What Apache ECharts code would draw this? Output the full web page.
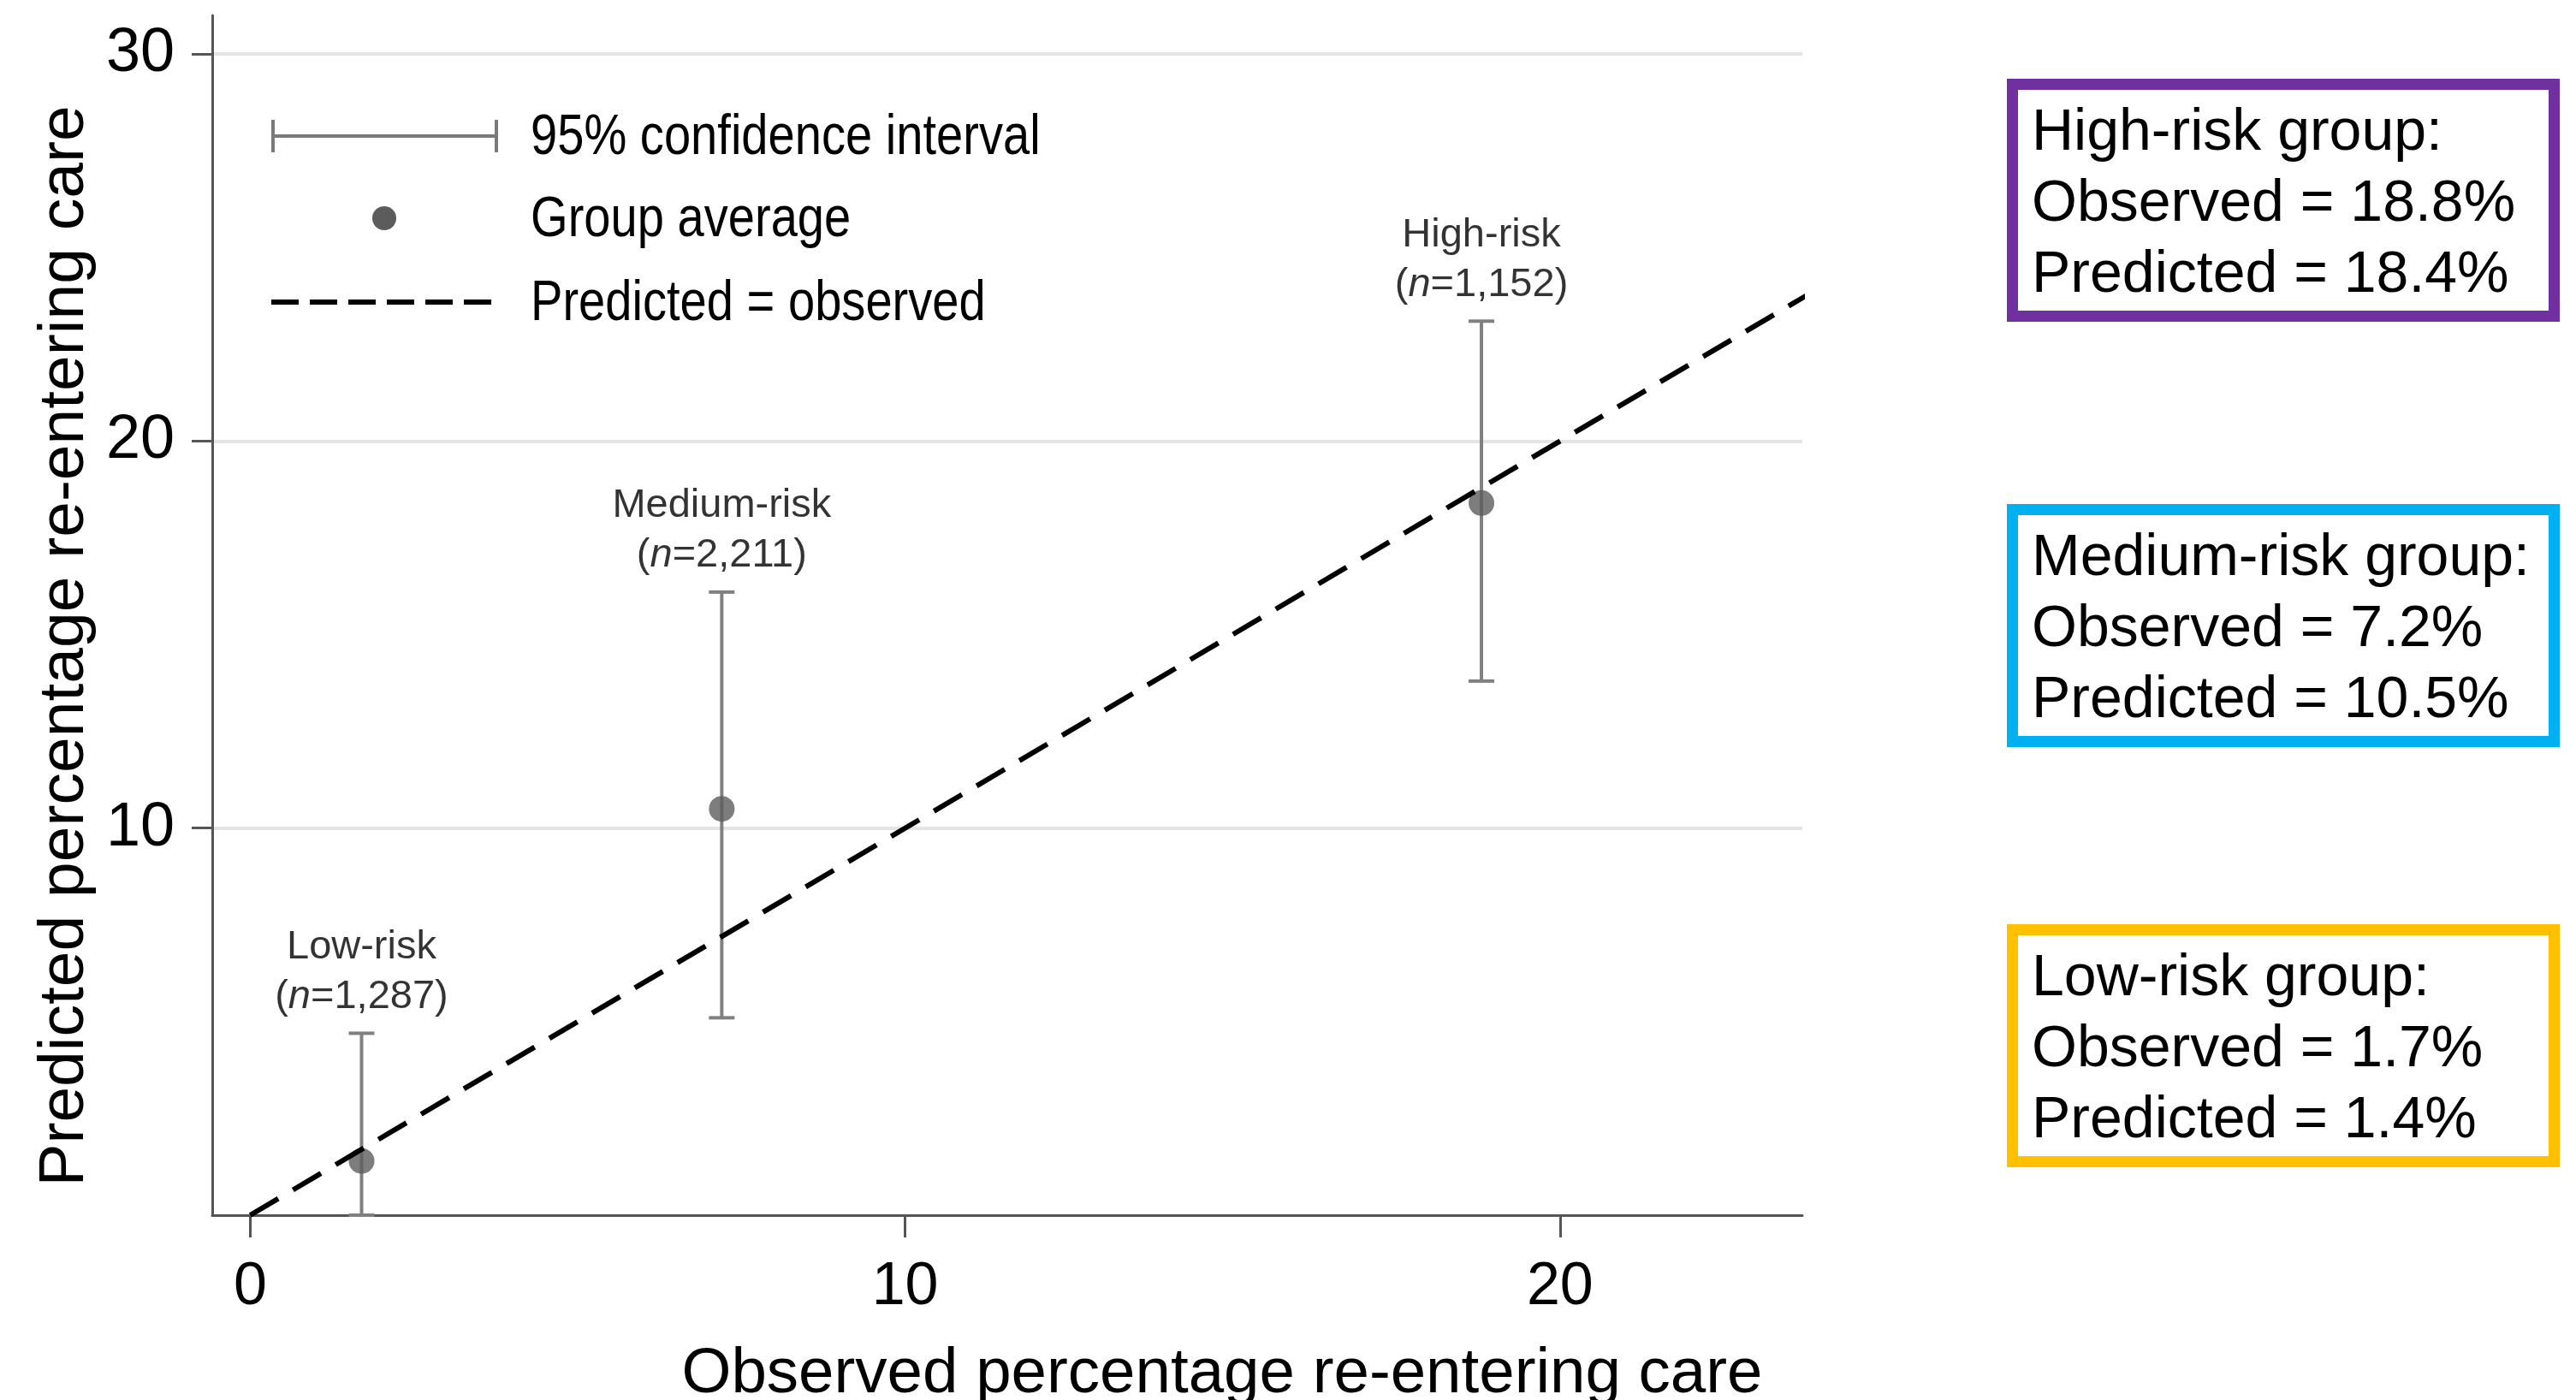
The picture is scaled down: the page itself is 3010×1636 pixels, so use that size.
<!DOCTYPE html>
<html>
<head>
<meta charset="utf-8">
<script src="https://cdn.jsdelivr.net/npm/echarts@6/dist/echarts.min.js"></script>
<style>
html,body{margin:0;padding:0;background:#ffffff;}
#chart{width:3010px;height:1636px;}
</style>
</head>
<body>
<div id="chart"></div>
<script>
// ---------------- data ----------------
const groups = ['Low-risk', 'Medium-risk', 'High-risk'];
const groupN = [1287, 2211, 1152];
const observed = [1.7, 7.2, 18.8];
const predicted = [1.4, 10.5, 18.4];
const ciLower = [0, 5.1, 13.8];
const ciUpper = [4.7, 16.1, 23.1];
const xTicks = [0, 10, 20];
const yTicks = [10, 20, 30];
const diagonal = [[0, 0], [24, 24]];
const legendLabels = ['95% confidence interval', 'Group average', 'Predicted = observed'];
const xTitle = 'Observed percentage re-entering care';
const yTitle = 'Predicted percentage re-entering care';

// ---------------- styles / layout ----------------
const ARIAL = "'Liberation Sans', Arial, Helvetica, sans-serif";
const boxColors = ['#FFC000', '#00B0F0', '#7030A0'];
const boxTops = [1080, 589, 92];
const AXIS_COLOR = '#555555';

const chart = echarts.init(document.getElementById('chart'), null, {renderer: 'canvas'});

const errData = groups.map((g, i) => [observed[i], ciLower[i], ciUpper[i]]);
const pointData = groups.map((g, i) => [observed[i], predicted[i]]);
const labelData = groups.map((g, i) => ({
  value: [observed[i], ciUpper[i]],
  name: g,
  n: groupN[i]
}));

// box graphics
const boxGraphics = [];
groups.forEach((g, i) => {
  const top = boxTops[i];
  boxGraphics.push({
    type: 'rect',
    shape: {x: 2351.5, y: top + 6.5, width: 633, height: 271},
    style: {fill: '#ffffff', stroke: boxColors[i], lineWidth: 13},
    z: 10
  });
  const lines = [
    g + ' group:',
    'Observed = ' + observed[i].toFixed(1) + '%',
    'Predicted = ' + predicted[i].toFixed(1) + '%'
  ];
  const offs = [64, 147, 230];
  lines.forEach((t, k) => {
    boxGraphics.push({
      type: 'text',
      x: 2374, y: top + offs[k],
      style: {text: t, fill: '#000', font: '68px ' + ARIAL, textAlign: 'left', textVerticalAlign: 'middle'},
      z: 11
    });
  });
});

// legend graphics
const legendGraphics = [
  {type: 'line', shape: {x1: 317, y1: 159, x2: 582, y2: 159}, style: {stroke: '#7a7a7a', lineWidth: 4}},
  {type: 'line', shape: {x1: 319, y1: 140, x2: 319, y2: 178}, style: {stroke: '#7a7a7a', lineWidth: 4}},
  {type: 'line', shape: {x1: 580, y1: 140, x2: 580, y2: 178}, style: {stroke: '#7a7a7a', lineWidth: 4}},
  {type: 'circle', shape: {cx: 449, cy: 255, r: 14}, style: {fill: '#5c5c5c'}},
  {type: 'line', shape: {x1: 317, y1: 353, x2: 582, y2: 353}, style: {stroke: '#000', lineWidth: 6, lineDash: [32, 13]}}
];
const legendY = [162, 258, 356];
legendLabels.forEach((t, k) => {
  legendGraphics.push({
    type: 'text', x: 620, y: legendY[k], scaleX: 0.85,
    style: {text: t, fill: '#000', font: '66px ' + ARIAL, textAlign: 'left', textVerticalAlign: 'middle'}
  });
});

const titleGraphics = [
  {type: 'text', x: 1428, y: 1606,
   style: {text: xTitle, fill: '#000', font: '74.5px ' + ARIAL, textAlign: 'center', textVerticalAlign: 'middle'}},
  {type: 'text', x: 76, y: 755, rotation: Math.PI / 2,
   style: {text: yTitle, fill: '#000', font: '75px ' + ARIAL, textAlign: 'center', textVerticalAlign: 'middle'}}
];

const option = {
  backgroundColor: '#ffffff',
  animation: false,
  grid: {left: 248, right: 904, top: 18, bottom: 216, containLabel: false},
  xAxis: {
    type: 'value', min: -0.58, max: 23.7,
    axisLine: {show: true, onZero: false, lineStyle: {color: AXIS_COLOR, width: 3}},
    axisTick: {show: true, customValues: xTicks, length: 26, lineStyle: {color: AXIS_COLOR, width: 3}},
    axisLabel: {show: true, customValues: xTicks, margin: 50, fontSize: 70, fontFamily: ARIAL, color: '#000'},
    splitLine: {show: false}
  },
  yAxis: {
    type: 'value', min: 0, max: 31, interval: 10,
    axisLine: {show: true, onZero: false, lineStyle: {color: AXIS_COLOR, width: 3}},
    axisTick: {show: true, customValues: yTicks, length: 24, lineStyle: {color: AXIS_COLOR, width: 3}},
    axisLabel: {show: true, customValues: yTicks, margin: 44, fontSize: 72, fontFamily: ARIAL, color: '#000'},
    splitLine: {show: true, lineStyle: {color: '#e4e4e4', width: 4}}
  },
  series: [
    {
      type: 'custom', name: 'CI', data: errData, z: 2,
      encode: {x: 0, y: [1, 2]},
      renderItem: function (params, api) {
        const x = api.value(0), lo = api.value(1), hi = api.value(2);
        const pLo = api.coord([x, lo]);
        const pHi = api.coord([x, hi]);
        const hw = 15;
        const st = {stroke: '#808080', lineWidth: 4, fill: null};
        return {
          type: 'group',
          children: [
            {type: 'line', shape: {x1: pLo[0], y1: pLo[1], x2: pHi[0], y2: pHi[1]}, style: st},
            {type: 'line', shape: {x1: pHi[0] - hw, y1: pHi[1], x2: pHi[0] + hw, y2: pHi[1]}, style: st},
            {type: 'line', shape: {x1: pLo[0] - hw, y1: pLo[1], x2: pLo[0] + hw, y2: pLo[1]}, style: st}
          ]
        };
      }
    },
    {
      type: 'scatter', name: 'Group average', data: pointData, z: 3,
      symbol: 'circle', symbolSize: 30,
      itemStyle: {color: '#5c5c5c'}
    },
    {
      type: 'scatter', name: 'labels', data: labelData, z: 5,
      symbol: 'circle', symbolSize: 1,
      itemStyle: {color: 'rgba(0,0,0,0)'},
      label: {
        show: true, position: 'top', distance: 13, align: 'center',
        formatter: function (p) {
          return '{t|' + p.data.name + '}\n{p|(}{i|n}{p|=' + p.data.n.toLocaleString('en-US') + ')}';
        },
        rich: {
          t: {fontSize: 47, fontFamily: ARIAL, color: '#000', lineHeight: 58, align: 'center'},
          p: {fontSize: 47, fontFamily: ARIAL, color: '#000', lineHeight: 58},
          i: {fontSize: 47, fontFamily: ARIAL, fontStyle: 'italic', color: '#000', lineHeight: 58}
        }
      }
    },
    {
      type: 'line', name: 'Predicted = observed', data: diagonal, z: 4,
      showSymbol: false, symbol: 'none', clip: true,
      lineStyle: {color: '#000', width: 6, type: [38, 20]}
    }
  ],
  graphic: [].concat(legendGraphics, titleGraphics, boxGraphics)
};

chart.setOption(option);
</script>
</body>
</html>
